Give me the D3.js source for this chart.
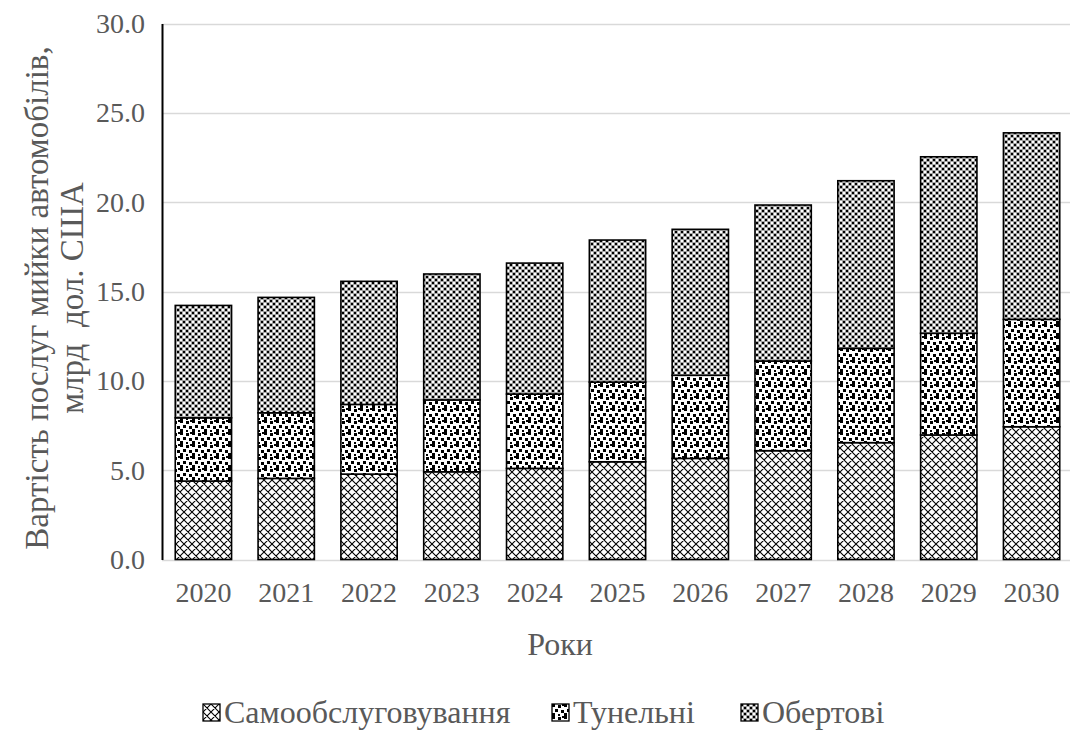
<!DOCTYPE html>
<html>
<head>
<meta charset="utf-8">
<script src="https://cdn.jsdelivr.net/npm/d3@7"></script>
<style>
  html, body { margin: 0; padding: 0; background: #fff; }
  svg { display: block; }
</style>
</head>
<body>
<svg id="chart" width="1070" height="730"></svg>
<script>
// Car wash services market, billion USD, by type
const years = ["2020", "2021", "2022", "2023", "2024", "2025", "2026", "2027", "2028", "2029", "2030"];
const selfService = [4.39, 4.54, 4.78, 4.91, 5.10, 5.47, 5.66, 6.09, 6.54, 6.97, 7.43];
const tunnel      = [3.54, 3.67, 3.90, 4.02, 4.16, 4.46, 4.65, 5.02, 5.28, 5.69, 6.01];
const rotary      = [6.29, 6.46, 6.89, 7.05, 7.33, 7.95, 8.17, 8.73, 9.38, 9.88, 10.44];
const seriesNames = ["Самообслуговування", "Тунельні", "Обертові"];
const yTicks = [0, 5, 10, 15, 20, 25, 30];

const FONT = "Tinos, 'Liberation Serif', 'Times New Roman', serif";
const TICK_FS = 28;
const TITLE_FS = 32;
const Y_TITLE_FS = 33;
const LEGEND_FS = 32;
const TEXT_COLOR = "#595959";

const svg = d3.select("#chart");
const margin = { left: 162, right: 1073, top: 23.5, bottom: 559.5 };

const x = d3.scaleBand().domain(years).range([margin.left, margin.right]).paddingInner(0.32).paddingOuter(0.16);
const y = d3.scaleLinear().domain([0, 30]).range([margin.bottom, margin.top]);

// Fill patterns
const defs = svg.append("defs");

// self-service: diagonal cross-hatch
const pSelf = defs.append("pattern").attr("id", "pat-self")
  .attr("patternUnits", "userSpaceOnUse").attr("width", 8).attr("height", 8);
pSelf.append("rect").attr("width", 8).attr("height", 8).attr("fill", "#fff");
pSelf.append("path").attr("d", "M0,0 L8,8 M8,0 L0,8 M-1,7 L1,9 M7,-1 L9,1 M-1,1 L1,-1 M7,9 L9,7")
  .attr("stroke", "#000").attr("stroke-width", 1.1).attr("fill", "none");

// tunnel: scattered squares (confetti)
const pTun = defs.append("pattern").attr("id", "pat-tunnel")
  .attr("patternUnits", "userSpaceOnUse").attr("width", 12).attr("height", 12);
pTun.append("rect").attr("width", 12).attr("height", 12).attr("fill", "#fff");
[[0,0,3,3],[6,1,3,3],[3,5,3,3],[9,6,3,3],[0,9,3,3],[6,10,2,2],[10,0,2,2]]
  .forEach(([a, b, w, h]) => pTun.append("rect").attr("x", a).attr("y", b).attr("width", w).attr("height", h).attr("fill", "#000"));

// rotary: small checkerboard with a light grey grid
const pRot = defs.append("pattern").attr("id", "pat-rotary")
  .attr("patternUnits", "userSpaceOnUse").attr("width", 6).attr("height", 6);
pRot.append("rect").attr("width", 6).attr("height", 6).attr("fill", "#fff");
pRot.append("path").attr("d", "M0,2.5 H6 M0,5.5 H6 M2.5,0 V6 M5.5,0 V6").attr("stroke", "#a6a6a6").attr("stroke-width", 1);
pRot.append("rect").attr("x", 0).attr("y", 0).attr("width", 2).attr("height", 2).attr("fill", "#000");
pRot.append("rect").attr("x", 3).attr("y", 3).attr("width", 2).attr("height", 2).attr("fill", "#000");

const fills = ["url(#pat-self)", "url(#pat-tunnel)", "url(#pat-rotary)"];

// Gridlines
svg.append("g").selectAll("line").data(yTicks).join("line")
  .attr("x1", margin.left).attr("x2", 1070)
  .attr("y1", d => Math.round(y(d)) + 0.5).attr("y2", d => Math.round(y(d)) + 0.5)
  .attr("stroke", "#d9d9d9").attr("stroke-width", 1.5);

// Stacked bars
const rows = years.map((yr, i) => ({ year: yr, s0: selfService[i], s1: tunnel[i], s2: rotary[i] }));
const stack = d3.stack().keys(["s0", "s1", "s2"])(rows);

svg.append("g").selectAll("g").data(stack).join("g")
  .attr("fill", (d, i) => fills[i])
  .selectAll("rect").data(d => d).join("rect")
  .attr("x", d => x(d.data.year))
  .attr("width", x.bandwidth())
  .attr("y", d => y(d[1]))
  .attr("height", d => y(d[0]) - y(d[1]))
  .attr("stroke", "#000").attr("stroke-width", 1.6);

// Y axis
const yAxis = d3.axisLeft(y).tickValues(yTicks).tickFormat(d3.format(".1f")).tickSize(0).tickPadding(17);
const gy = svg.append("g").attr("transform", `translate(${margin.left},0)`).call(yAxis)
  .attr("font-family", FONT).attr("font-size", TICK_FS);
gy.select(".domain").attr("stroke", "#000").attr("stroke-width", 2);
gy.selectAll("text").attr("fill", TEXT_COLOR);

// X axis
const xAxis = d3.axisBottom(x).tickSize(0).tickPadding(23);
const gx = svg.append("g").attr("transform", `translate(0,${margin.bottom})`).call(xAxis)
  .attr("font-family", FONT).attr("font-size", TICK_FS);
gx.select(".domain").remove();
gx.selectAll("text").attr("fill", TEXT_COLOR);

// Axis titles
svg.append("text").attr("x", 560).attr("y", 655).attr("text-anchor", "middle")
  .attr("font-family", FONT).attr("font-size", TITLE_FS).attr("fill", TEXT_COLOR).text("Роки");

const yTitle = svg.append("text").attr("transform", "translate(0,298) rotate(-90)")
  .attr("text-anchor", "middle").attr("font-family", FONT).attr("font-size", Y_TITLE_FS).attr("fill", TEXT_COLOR);
yTitle.append("tspan").attr("x", 0).attr("y", 48).text("Вартість послуг мийки автомобілів,");
yTitle.append("tspan").attr("x", 0).attr("y", 83).attr("xml:space", "preserve").text("млрд  дол. США");

// Legend
const legendX = [203, 552, 741];
const lg = svg.append("g").selectAll("g").data(seriesNames).join("g")
  .attr("transform", (d, i) => `translate(${legendX[i]},704)`);
lg.append("rect").attr("width", 17).attr("height", 17)
  .attr("fill", (d, i) => fills[i]).attr("stroke", "#000").attr("stroke-width", 1.3);
lg.append("text").attr("x", 21).attr("y", 19).attr("font-family", FONT).attr("font-size", LEGEND_FS)
  .attr("fill", TEXT_COLOR).text(d => d);
</script>
</body>
</html>
